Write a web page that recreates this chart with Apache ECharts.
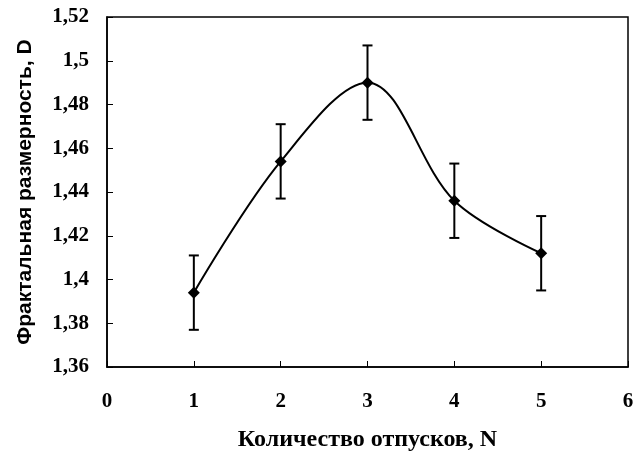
<!DOCTYPE html>
<html>
<head>
<meta charset="utf-8">
<script src="https://cdn.jsdelivr.net/npm/echarts@6/dist/echarts.min.js"></script>
<style>
html, body { margin: 0; padding: 0; background: #fff; }
#chart { width: 643px; height: 457px; }
</style>
</head>
<body>
<div id="chart"></div>
<script>
// данные
var xValues = [1, 2, 3, 4, 5];
var dValues = [1.394, 1.454, 1.490, 1.436, 1.412];
var dErrors = [0.017, 0.017, 0.017, 0.017, 0.017];

var lineData = xValues.map(function (x, i) { return [x, dValues[i]]; });
var errData = xValues.map(function (x, i) { return [x, dValues[i] - dErrors[i], dValues[i] + dErrors[i]]; });

var chart = echarts.init(document.getElementById('chart'));

var option = {
    backgroundColor: '#fff',
    animation: false,
    grid: {
        left: 107, right: 15, top: 17, bottom: 90,
        outerBoundsMode: 'none',
        containLabel: false,
        show: true,
        borderColor: '#000',
        borderWidth: 1.5
    },
    xAxis: {
        type: 'value',
        min: 0, max: 6, interval: 1,
        name: 'Количество отпусков, N',
        nameLocation: 'middle',
        nameGap: 61,
        nameTextStyle: { fontFamily: 'Liberation Serif', fontWeight: 'bold', fontSize: 24, color: '#000' },
        axisLine: { show: true, lineStyle: { color: '#000', width: 1.5 } },
        axisTick: { show: true, inside: true, length: 6, lineStyle: { color: '#000', width: 1 } },
        axisLabel: { margin: 24, fontFamily: 'Liberation Serif', fontWeight: 'bold', fontSize: 21, color: '#000' },
        splitLine: { show: false }
    },
    yAxis: {
        type: 'value',
        min: 1.36, max: 1.52, interval: 0.02,
        name: 'Фрактальная размерность, D',
        nameLocation: 'middle',
        nameGap: 71,
        nameTextStyle: { fontFamily: 'Liberation Sans', fontWeight: 'bold', fontSize: 21, color: '#000' },
        axisLine: { show: true, lineStyle: { color: '#000', width: 1.5 } },
        axisTick: { show: true, inside: true, length: 6, lineStyle: { color: '#000', width: 1 } },
        axisLabel: {
            margin: 18,
            fontFamily: 'Liberation Serif', fontWeight: 'bold', fontSize: 21, color: '#000',
            formatter: function (v) {
                return String(parseFloat(v.toFixed(2))).replace('.', ',');
            }
        },
        splitLine: { show: false }
    },
    series: [
        {
            type: 'line',
            data: lineData,
            smooth: 0.35,
            symbol: 'diamond',
            symbolSize: 12,
            itemStyle: { color: '#000' },
            lineStyle: { color: '#000', width: 2 },
            z: 3
        },
        {
            type: 'custom',
            data: errData,
            z: 2,
            renderItem: function (params, api) {
                var x = api.value(0);
                var lo = api.coord([x, api.value(1)]);
                var hi = api.coord([x, api.value(2)]);
                var hw = 5;
                var st = { stroke: '#000', lineWidth: 2 };
                return {
                    type: 'group',
                    children: [
                        { type: 'line', shape: { x1: lo[0], y1: lo[1], x2: hi[0], y2: hi[1] }, style: st },
                        { type: 'line', shape: { x1: hi[0] - hw, y1: hi[1], x2: hi[0] + hw, y2: hi[1] }, style: st },
                        { type: 'line', shape: { x1: lo[0] - hw, y1: lo[1], x2: lo[0] + hw, y2: lo[1] }, style: st }
                    ]
                };
            }
        }
    ]
};

chart.setOption(option);
</script>
</body>
</html>
